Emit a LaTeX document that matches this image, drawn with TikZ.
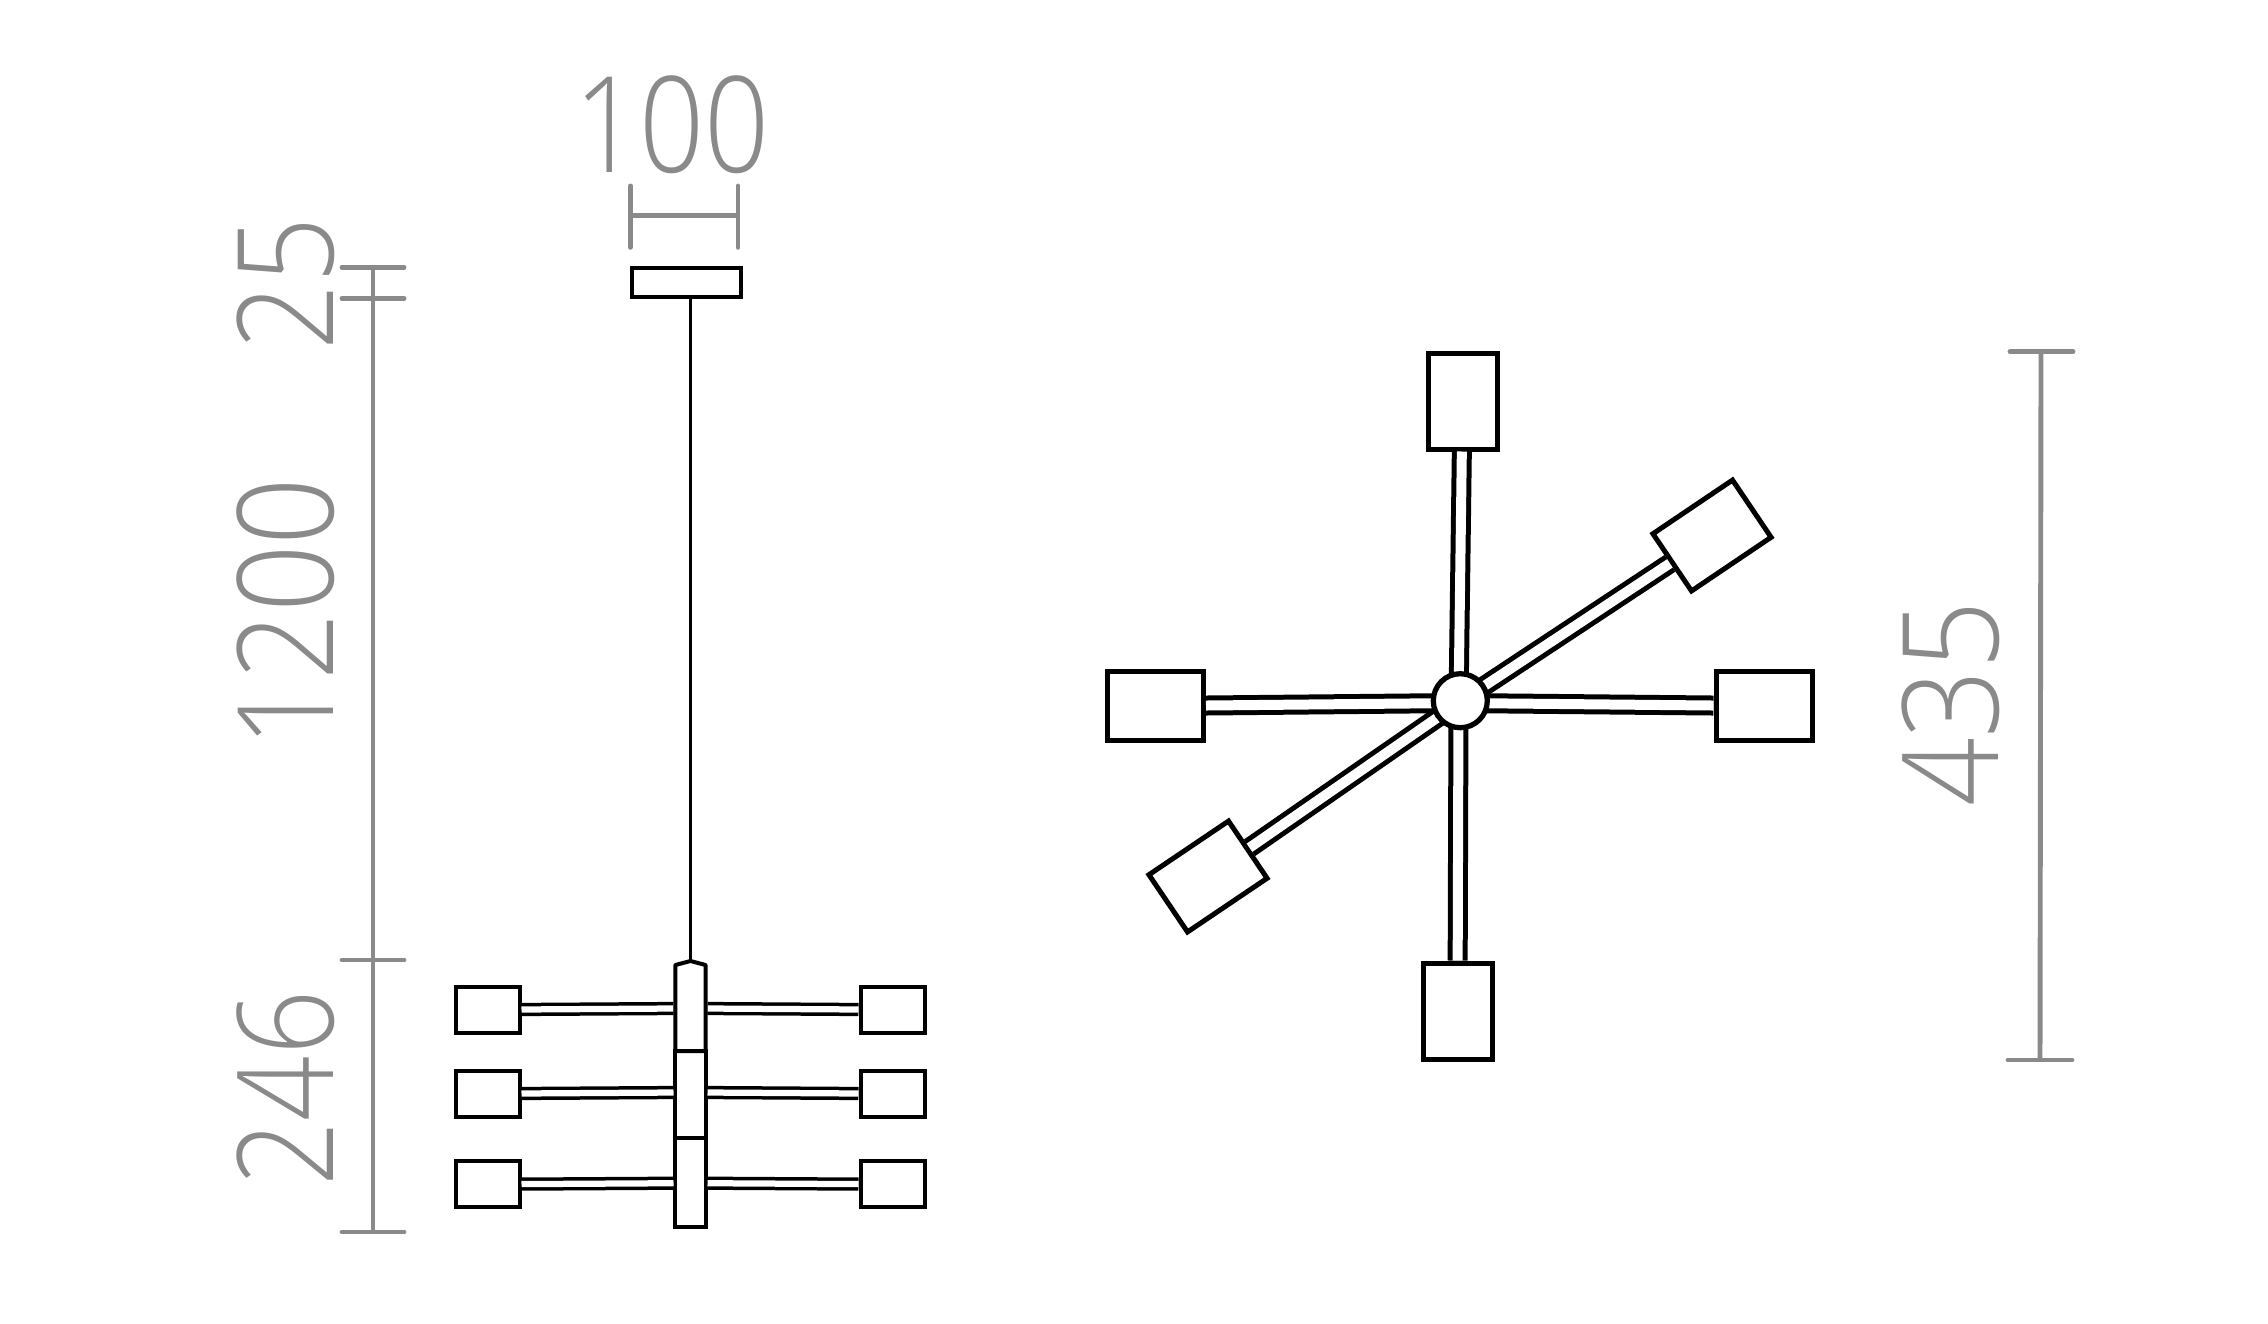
\documentclass[tikz,border=0pt]{standalone}
\usepackage{fontspec}
\setmainfont{Open Sans}[UprightFont=* Light]
\usepackage{tikz}
\usetikzlibrary{shapes, positioning}
\definecolor{dimgrey}{HTML}{8A8A8A}
\tikzstyle{lamp} = [draw, fill=white, rectangle, inner sep=0pt,
    line width=0.08cm, minimum width=1.28cm, minimum height=0.92cm]
\tikzstyle{shade} = [draw, fill=white, rectangle, inner sep=0pt,
    line width=0.1cm, minimum width=1.92cm, minimum height=1.38cm]
\tikzstyle{upright} = [shade, minimum width=1.38cm, minimum height=1.92cm]
\tikzstyle{hubring} = [draw, fill=white, circle, inner sep=0pt,
    line width=0.105cm, minimum size=1.08cm]
\tikzstyle{column} = [lamp, minimum width=0.608cm]
\tikzstyle{arm} = [draw, line width=0.07cm, double=white, double distance=0.125cm]
\tikzstyle{spoke} = [draw, line width=0.1cm, double=white, double distance=0.2cm]
\tikzstyle{dimline} = [draw=dimgrey, line width=0.098cm]
\tikzstyle{dimtick} = [dimline, line cap=round]
\tikzstyle{dimtext} = [text=dimgrey, inner sep=0pt, font=\fontsize{76}{76}\selectfont]
\begin{document}
\begin{tikzpicture}[x=0.02cm, y=-0.02cm]
    \useasboundingbox (0,0) rectangle (2268,1323);
    % side view
    \node [lamp, minimum width=2.17cm, minimum height=0.58cm] (canopy) at (686.3,282.8) {};
    \coordinate (apex) at (690.5,961);
    \node [column, draw=none, outer sep=0pt, minimum height=1.72cm] (cola) at (690.5,1008) {};
    \node [column, minimum height=1.746cm] (colb) at (690.5,1094.7) {};
    \node [column, minimum height=1.774cm] (colc) at (690.5,1182.5) {};
    \foreach \n/\yb/\yj in {a/1009.7/1008.5, b/1093.7/1092.5, c/1184.3/1183.2} {
        \node [lamp] (left\n) at (487.5,\yb) {};
        \node [lamp] (right\n) at (892.5,\yb) {};
        \coordinate (jl\n) at (673.5,\yj);
        \coordinate (jr\n) at (707.5,\yj);
        \draw [arm] (left\n) -- (jl\n);
        \draw [arm] (right\n) -- (jr\n);
    }
    \draw [line width=0.08cm, line join=round] (cola.south west) -- (cola.north west) -- (apex)
        -- (cola.north east) -- (cola.south east) -- cycle;
    \draw [line width=0.07cm] (canopy.south -| apex) -- (apex);
    % top view
    \coordinate (axis) at (1458.5,703);
    \node [upright] (north) at (1462.5,401) {};
    \node [upright] (south) at (1457.5,1011) {};
    \node [shade] (west) at (1155.5,706) {};
    \node [shade] (east) at (1764,706) {};
    \node [shade, rotate=34] (northeast) at (1712,535.5) {};
    \node [shade, rotate=34] (southwest) at (1208,876.5) {};
    \foreach \n in {north, south, west, east, northeast, southwest}
        \draw [spoke] (\n) -- (axis);
    \node [hubring] (hub) at (1460.3,700.7) {};
    % dimensions
    \coordinate (wa) at (630.3,215.7);
    \coordinate (wb) at (738,215.7);
    \draw [dimline] (wa) -- (wb);
    \draw [dimtick] (630.3,186) -- (wa) -- (630.3,247.3);
    \draw [dimtick] (738,186) -- (wb) -- (738,247.3);
    \node [dimtext, xscale=0.853] (width) at (671.7,124.3) {100};
    \coordinate (ha) at (373,267.3);
    \coordinate (hb) at (373,298.7);
    \coordinate (hc) at (373,960);
    \coordinate (hd) at (373,1232);
    \draw [dimline] (ha) -- (hd);
    \foreach \n in {ha, hb, hc, hd}
        \draw [dimtick] ([xshift=-0.62cm]\n) -- ([xshift=0.62cm]\n);
    \node [dimtext, rotate=90, xscale=0.87] (canopyh) at (285.7,283.7) {25};
    \node [dimtext, rotate=90, xscale=0.885] (cableh) at (285.7,613) {1200};
    \node [dimtext, rotate=90, xscale=0.855] (bodyh) at (285.7,1088.5) {246};
    \coordinate (da) at (2041,351.7);
    \coordinate (db) at (2040,1060);
    \draw [dimline] (da) -- (db);
    \draw [dimtick] ([xshift=-0.62cm]da) -- ([xshift=0.64cm]da);
    \draw [dimtick] ([xshift=-0.64cm]db) -- ([xshift=0.64cm]db);
    \node [dimtext, rotate=90, xscale=0.9] (span) at (1950.5,704) {435};
\end{tikzpicture}
\end{document}
